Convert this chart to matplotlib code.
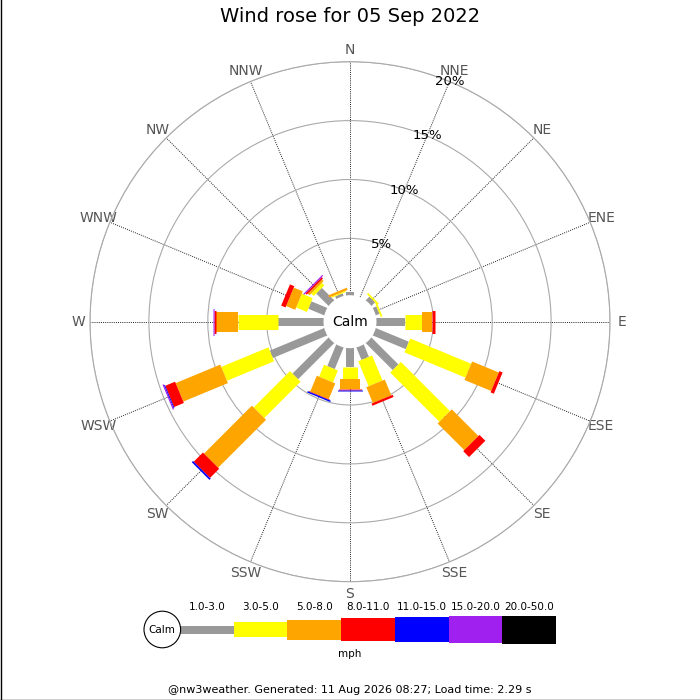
import numpy as np
import matplotlib
matplotlib.use("Agg")
import matplotlib.pyplot as plt
from matplotlib.patches import Circle, Rectangle

# === data: percent of time per direction and speed class ===
directions = ["N", "NNE", "NE", "ENE", "E", "ESE", "SE", "SSE",
              "S", "SSW", "SW", "WSW", "W", "WNW", "NW", "NNW"]
speed_bins = ["1.0-3.0", "3.0-5.0", "5.0-8.0", "8.0-11.0",
              "11.0-15.0", "15.0-20.0", "20.0-50.0"]

s1_3 = [0.45, 0, 0.60, 0.50, 2.60, 3.20, 3.40, 1.30, 1.75, 2.15, 4.50, 5.16, 4.08, 1.62, 1.65, 0.40]
s3_5 = [0, 0, 0.15, 0.15, 1.40, 5.60, 5.90, 2.30, 1.05, 1.10, 4.36, 4.34, 3.39, 1.00, 0.30, 0.10]
s5_8 = [0, 0, 0, 0, 0.92, 2.45, 3.20, 1.45, 0.85, 1.45, 5.75, 4.10, 1.83, 0.83, 0.20, 0.20]
s8_11 = [0, 0, 0, 0, 0.22, 0.30, 0.70, 0.20, 0.05, 0.05, 1.10, 0.90, 0.15, 0.40, 0.15, 0]
s11_15 = [0, 0, 0, 0, 0, 0, 0, 0, 0.12, 0.12, 0.15, 0.08, 0.03, 0, 0, 0]
s15_20 = [0, 0, 0, 0, 0, 0, 0, 0, 0, 0, 0, 0.10, 0.12, 0, 0.10, 0]
s20_50 = [0] * 16

ring_ticks = [5, 10, 15, 20]

# === styles ===
colors = ["#999999", "#ffff00", "#ffa500", "#ff0000", "#0000ff", "#a020f0", "#000000"]
widths_px = [8, 15, 20, 23, 25, 27, 28]

series = np.array([s1_3, s3_5, s5_8, s8_11, s11_15, s15_20, s20_50])
cum = np.vstack([np.zeros(16), np.cumsum(series, axis=0)])
theta = np.deg2rad(np.arange(16) * 22.5)

fig = plt.figure(figsize=(7, 7), dpi=100)
ax = fig.add_axes([90 / 700, 118.3 / 700, 520 / 700, 520 / 700], projection="polar")
ax.set_theta_zero_location("N")
ax.set_theta_direction(-1)
ax.set_ylim(0, 20)
ax.set_rorigin(-2.07)

ax.set_xticks(theta)
ax.set_xticklabels(directions, color="#555555", fontsize=10)
ax.tick_params(axis="x", pad=-2)
ax.set_yticks(ring_ticks)
ax.set_yticklabels([])
ax.xaxis.grid(True, color="#222222", linestyle=(0, (1, 1.2)), linewidth=0.7)
ax.yaxis.grid(True, color="#aaaaaa", linestyle="-", linewidth=0.8)
ax.spines["polar"].set_color("#aaaaaa")
ax.spines["polar"].set_linewidth(0.8)
ax.spines["inner"].set_visible(False)

for v in ring_ticks:
    ax.text(np.deg2rad(22.5), v, f"{v}%", ha="center", va="center",
            fontsize=9.5, color="black", zorder=6)

# bars as thick radial strokes
for i in range(16):
    for k in range(len(speed_bins)):
        r0, r1 = cum[k, i], cum[k + 1, i]
        if r1 - r0 <= 0:
            continue
        ax.plot([theta[i], theta[i]], [r0, r1], color=colors[k],
                lw=widths_px[k] * 0.72, solid_capstyle="butt", zorder=3)

ax.add_patch(Circle((0.5, 0.5), 26.5 / 520, transform=ax.transAxes,
                    facecolor="white", edgecolor="none", zorder=5, clip_on=False))
ax.text(0.5, 0.5, "Calm", transform=ax.transAxes, ha="center", va="center",
        fontsize=10, zorder=6)

# === overlay for title, legend and footer (pixel coords) ===
lax = fig.add_axes([0, 0, 1, 1], zorder=10)
lax.set_xlim(0, 700)
lax.set_ylim(700, 0)
lax.axis("off")

lax.text(350, 17, "Wind rose for 05 Sep 2022", ha="center", va="center", fontsize=14)

seg_w = 53.7
x0 = 180
for k, lab in enumerate(speed_bins):
    h = widths_px[k]
    lax.add_patch(Rectangle((x0 + k * seg_w, 629.5 - h / 2), seg_w, h,
                            facecolor=colors[k], edgecolor="none"))
    lax.text(x0 + (k + 0.5) * seg_w, 607, lab, ha="center", va="center", fontsize=7.5)
lax.add_patch(Circle((162.3, 629.5), 18.3, facecolor="white", edgecolor="black", lw=0.8))
lax.text(162.3, 630, "Calm", ha="center", va="center", fontsize=7.5)
lax.text(350, 654, "mph", ha="center", va="center", fontsize=7.5)

lax.text(350, 690, "@nw3weather. Generated: 11 Aug 2026 08:27; Load time: 2.29 s",
         ha="center", va="center", fontsize=8)
lax.plot([0.5, 0.5], [0, 699.5], color="black", lw=1)
lax.plot([0, 700], [699.5, 699.5], color="black", lw=1)

fig.savefig("out.png", dpi=100)
